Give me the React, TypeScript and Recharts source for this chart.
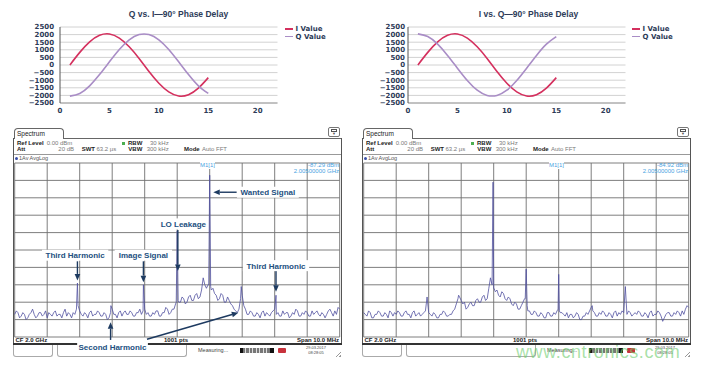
import React from "react";
import {
  LineChart,
  Line,
  XAxis,
  YAxis,
  CartesianGrid,
  ReferenceLine,
  ReferenceDot,
} from "recharts";

// ---- I/Q phase plots ----
const sampleX = [1, 2, 3, 4, 5, 6, 7, 8, 9, 10, 11, 12, 13, 14, 15];
const iValues = [0, 830, 1520, 1950, 2040, 1770, 1200, 430, -430, -1200, -1770, -2040, -1950, -1520, -830];
const qLagging = [-2050, -1870, -1370, -630, 210, 1020, 1660, 2000, 2000, 1660, 1020, 210, -630, -1370, -1870];
const qLeading = [2050, 1870, 1370, 630, -210, -1020, -1660, -2000, -2000, -1660, -1020, -210, 630, 1370, 1870];
const phaseXTicks = [0, 5, 10, 15, 20];
const phaseYTicks = [-2500, -2000, -1500, -1000, -500, 0, 500, 1000, 1500, 2000, 2500];
const seriesNames = ["I Value", "Q Value"];

// ---- spectrum traces, 10 MHz span around CF, one reading per 50 kHz ----
const spanStart = -5;
const spanStep = 0.05;
// one row = 1 MHz
const floorA = [
  -87, -85, -86, -89, -88, -86, -87, -90, -89, -87, -86, -84, -87, -89, -88, -86, -86, -88, -87, -85,
  -89, -86, -87, -88, -86, -85, -88, -87, -87, -89, -86, -84, -88, -86, -87, -89, -86, -87, -84, -82,
  -85, -87, -88, -86, -87, -89, -86, -85, -88, -87, -87, -85, -86, -88, -88, -86, -87, -90, -89, -86,
  -84, -87, -87, -89, -86, -85, -88, -86, -85, -87, -87, -85, -86, -88, -88, -86, -86, -84, -87, -85,
  -84, -87, -86, -88, -88, -86, -87, -85, -85, -88, -88, -86, -86, -83, -84, -87, -86, -84, -84, -81,
  -80, -80, -80, -77, -78, -81, -80, -77, -76, -79, -79, -76, -75, -78, -77, -73, -66, -70, -72, -70,
  -72, -73, -72, -75, -76, -79, -78, -75, -76, -80, -80, -77, -79, -81, -82, -84, -85, -86, -84, -78,
  -76, -82, -84, -87, -87, -85, -86, -88, -88, -86, -87, -89, -86, -85, -88, -86, -87, -88, -86, -85,
  -84, -87, -86, -88, -88, -85, -87, -86, -86, -89, -88, -86, -87, -84, -85, -88, -88, -86, -87, -85,
  -86, -88, -88, -85, -87, -86, -85, -87, -88, -86, -87, -89, -87, -85, -84, -86, -88, -85, -87, -83,
  -84,
];
const peaksA: [number, number][] = [
  [-3.07, -69], [-2.04, -82], [-1.04, -70], [-0.03, -80], [0, -39], [0.03, -79],
  [0.97, -70], [1, -7], [1.03, -71], [1.97, -71], [3.04, -76],
];
const floorB = [
  -86, -87, -88, -85, -86, -89, -89, -87, -87, -85, -86, -88, -88, -86, -87, -89, -85, -86, -88, -86,
  -87, -85, -86, -88, -88, -86, -85, -87, -87, -89, -86, -85, -88, -87, -86, -88, -87, -86, -85, -82,
  -86, -87, -88, -86, -87, -89, -89, -87, -87, -85, -86, -88, -88, -87, -87, -85, -84, -81, -78, -77,
  -79, -81, -80, -84, -83, -81, -80, -82, -82, -79, -78, -80, -80, -77, -76, -79, -78, -72, -66, -70,
  -72, -74, -73, -76, -77, -74, -75, -78, -79, -77, -78, -81, -82, -80, -81, -84, -84, -82, -80, -78,
  -61, -85, -85, -87, -87, -85, -86, -88, -88, -86, -87, -89, -89, -86, -86, -88, -88, -86, -87, -85,
  -64, -86, -86, -87, -88, -86, -89, -87, -87, -89, -88, -86, -87, -90, -90, -88, -88, -86, -87, -85,
  -83, -85, -86, -88, -88, -86, -87, -85, -86, -88, -88, -86, -87, -89, -86, -85, -88, -86, -87, -85,
  -86, -88, -87, -85, -86, -88, -87, -86, -87, -85, -86, -88, -88, -86, -87, -89, -86, -85, -88, -87,
  -87, -85, -86, -88, -91, -89, -87, -86, -86, -88, -88, -86, -87, -85, -86, -88, -85, -87, -84, -82,
  -83,
];
const peaksB: [number, number][] = [
  [-3.05, -77], [-2.08, -76], [-1.05, -70], [-1.02, -11], [-0.99, -72], [-0.03, -78],
  [0, -61], [0.03, -82], [0.98, -84], [1, -64], [1.02, -85], [2.03, -82], [3.05, -71],
];
const dbmTicks = [-100, -90, -80, -70, -60, -50, -40, -30, -20, -10, 0];
const mhzTicks = [-5, -4, -3, -2, -1, 0, 1, 2, 3, 4, 5];

// annotations on the first capture (MHz offset, dBm)
const arrowsA = [
  { x1: -3.07, y1: -56.5, x2: -3.07, y2: -67.5 },
  { x1: -1.04, y1: -56.5, x2: -1.04, y2: -68.5 },
  { x1: 0.02, y1: -38.5, x2: 0.02, y2: -62 },
  { x1: 1.83, y1: -16.8, x2: 1.11, y2: -16.8 },
  { x1: 3.04, y1: -62, x2: 3.04, y2: -74 },
  { x1: -2.05, y1: -101.7, x2: -2.05, y2: -91.5 },
  { x1: -0.93, y1: -101.3, x2: 1.88, y2: -86 },
];
const labelsA = [
  { text: "Third Harmonic", f: -3.14, dbm: -53 },
  { text: "Image Signal", f: -1.04, dbm: -53 },
  { text: "LO Leakage", f: 0.19, dbm: -35 },
  { text: "Wanted Signal", f: 2.79, dbm: -16.8 },
  { text: "Third Harmonic", f: 3.04, dbm: -59 },
  { text: "Second Harmonic", f: -1.99, dbm: -106 },
];

const I_COLOR = "#d4305e";
const Q_COLOR = "#a98dc6";
const NAVY = "#2d3b58";
const ANNO = "#23507f";
const ARROW = "#1d3a60";

function buildTrace(floor: number[], peaks: [number, number][]) {
  const pts = floor.map((dbm, k) => ({ f: +(spanStart + k * spanStep).toFixed(2), dbm }));
  const keep = pts.filter((p) => !peaks.some(([f]) => Math.abs(f - p.f) < 1e-6));
  return [...keep, ...peaks.map(([f, dbm]) => ({ f, dbm }))].sort((a, b) => a.f - b.f);
}

const fmtNum = (v: number) => (v < 0 ? "\u2212" + Math.abs(v) : String(v));

const T = ({ x, y, s = 6, b = false, c = "#555", a = "start", bg, children }: any) => (
  <div
    style={{
      position: "absolute",
      left: x,
      top: y - s * 0.6,
      fontSize: s,
      lineHeight: 1.2,
      fontWeight: b ? 700 : 400,
      color: c,
      whiteSpace: "nowrap",
      background: bg,
      transform: a === "end" ? "translateX(-100%)" : a === "middle" ? "translateX(-50%)" : undefined,
    }}
  >
    {children}
  </div>
);

const Box = ({ x, y, w, h, style }: any) => (
  <div style={{ position: "absolute", left: x, top: y, width: w, height: h, boxSizing: "border-box", ...style }} />
);

const axisTick = { fontSize: 7, fontWeight: 700, fill: NAVY, fontFamily: "DejaVu Sans" };

function PhasePlot({ left, title, qValues, yWidth, yMargin, rightMargin, legendX }: any) {
  const data = sampleX.map((x, k) => ({ x, i: iValues[k], q: qValues[k] }));
  const colors = [I_COLOR, Q_COLOR];
  return (
    <div style={{ position: "absolute", left, top: 0, width: 350, height: 125 }}>
      <div
        style={{
          position: "absolute", left: 0, top: 9, width: 357, textAlign: "center",
          fontSize: 8.5, fontWeight: 700, color: NAVY, lineHeight: 1.2,
        }}
      >
        {title}
      </div>
      <LineChart width={350} height={125} data={data} margin={{ top: 27, right: rightMargin, bottom: 8, left: 0 }}>
        <CartesianGrid vertical={false} stroke="#d2d2d2" />
        <XAxis
          type="number" dataKey="x" domain={[0, 22]} ticks={phaseXTicks} interval={0}
          tickLine={false} tickSize={0} tickMargin={5} height={14}
          axisLine={{ stroke: "#9a9a9a" }} tick={axisTick}
        />
        <YAxis
          domain={[-2500, 2500]} ticks={phaseYTicks} interval={0} width={yWidth}
          tickLine={false} tickSize={0} tickMargin={yMargin}
          axisLine={{ stroke: "#555" }} tick={axisTick} tickFormatter={fmtNum}
        />
        <Line type="natural" dataKey="i" name={seriesNames[0]} stroke={I_COLOR} strokeWidth={1.6} dot={false} isAnimationActive={false} />
        <Line type="natural" dataKey="q" name={seriesNames[1]} stroke={Q_COLOR} strokeWidth={1.6} dot={false} isAnimationActive={false} />
      </LineChart>
      {seriesNames.map((n, k) => (
        <React.Fragment key={n}>
          <Box x={legendX} y={28.2 + k * 7.7} w={8} h={1.6} style={{ background: colors[k] }} />
          <T x={legendX + 10.5} y={29 + k * 7.7} s={7} b c={NAVY}>
            <span style={{ fontFamily: "DejaVu Sans" }}>{n}</span>
          </T>
        </React.Fragment>
      ))}
    </div>
  );
}

const DbmTick = (p: any) => {
  const v = p.payload.value;
  if (v === 0 || v === -100) return <g />;
  return (
    <g>
      <rect x={p.x - 0.5} y={p.y - 3.5} width={21} height={7} fill="#fff" />
      <text x={p.x} y={p.y} dy={2} fontSize={5.5} fill="#6a6a6a" fontFamily="Arial">{`${v} dBm`}</text>
    </g>
  );
};

const Arrow = (p: any) => {
  const { x1, y1, x2, y2 } = p;
  const a = Math.atan2(y2 - y1, x2 - x1);
  const L = 6.5;
  const W = 2.8;
  const bx = x2 - L * Math.cos(a);
  const by = y2 - L * Math.sin(a);
  const s = Math.sin(a);
  const c = Math.cos(a);
  const pts = `${x2},${y2} ${bx + W * s},${by - W * c} ${bx - W * s},${by + W * c}`;
  return (
    <g>
      <line x1={x1} y1={y1} x2={bx} y2={by} stroke={ARROW} strokeWidth={1.4} />
      <polygon points={pts} fill={ARROW} />
    </g>
  );
};

const AnnoLabel = (text: string) => (p: any) => {
  const w = text.length * 4.45 + 4;
  return (
    <g>
      <rect x={p.cx - w / 2} y={p.cy - 5.5} width={w} height={11} fill="#fff" />
      <text x={p.cx} y={p.cy} dy={3} textAnchor="middle" fontSize={8} fontWeight={700} fill={ANNO} fontFamily="Arial">
        {text}
      </text>
    </g>
  );
};

function SpectrumPanel({ dx, trace, level, arrows = [], labels = [], watermark = false }: any) {
  const hdr = "#222";
  const val = "#7a7a7a";
  return (
    <div style={{ position: "absolute", left: dx, top: 0, width: 350, height: 368 }}>
      <Box x={13.5} y={128} w={50} h={10.5} style={{ border: "1px solid #666", borderBottom: "none", borderRadius: "4px 4px 0 0" }} />
      <T x={17} y={134} s={6.5} c={hdr}>Spectrum</T>
      <Box x={63} y={137.5} w={278} h={1} style={{ background: "#666" }} />
      <Box x={328} y={127} w={12} h={10} style={{ border: "1px solid #777", borderRadius: 2 }} />
      <Box x={331} y={129.2} w={6} h={2.6} style={{ border: "1px solid #555" }} />
      <T x={334} y={134} s={4} a="middle" c="#555">▼</T>
      <Box x={13} y={138} w={1} h={206} style={{ background: "#555" }} />
      <Box x={340.5} y={138} w={1} h={206} style={{ background: "#555" }} />

      <T x={17} y={143.8} b c={hdr}>Ref Level</T>
      <T x={46.7} y={143.8} c={val}>0.00 dBm</T>
      <Box x={121.5} y={142.3} w={3} h={3} style={{ background: "#4caf50" }} />
      <T x={128} y={143.8} b c={hdr}>RBW</T>
      <T x={150} y={143.8} c={val}>30 kHz</T>
      <T x={17} y={149.3} b c={hdr}>Att</T>
      <T x={58.3} y={149.3} c={val}>20 dB</T>
      <T x={81.7} y={149.3} b c={hdr}>SWT</T>
      <T x={96.5} y={149.3} c={val}>63.2 µs</T>
      <T x={128.3} y={149.3} b c={hdr}>VBW</T>
      <T x={146.7} y={149.3} c={val}>300 kHz</T>
      <T x={184} y={149.3} b c={hdr}>Mode</T>
      <T x={202} y={149.3} c={val}>Auto FFT</T>
      <Box x={14} y={154} w={326.5} h={1} style={{ background: "#999" }} />
      <Box x={15.3} y={156.8} w={3} h={3} style={{ background: "#3b4fa8", borderRadius: "50%" }} />
      <T x={19} y={158.3} s={5.5} c="#555">1Av AvgLog</T>

      <T x={15.5} y={340.2} b c={hdr}>CF 2.0 GHz</T>
      <T x={176} y={340.2} a="middle" b c={hdr}>1001 pts</T>
      <T x={339} y={340.2} a="end" b c={hdr}>Span 10.0 MHz</T>
      <Box x={13} y={343.2} w={328.5} h={1.6} style={{ background: "#333" }} />
      <Box x={13.3} y={344.5} w={40} h={12.5} style={{ border: "1px solid #aaa", borderTop: "none", borderRadius: "0 0 3px 3px" }} />
      <Box x={56.7} y={344.5} w={130} h={12.5} style={{ border: "1px solid #aaa", borderTop: "none", borderRadius: "0 0 3px 3px" }} />
      <T x={198} y={350.7} s={5.5} c="#444">Measuring...</T>
      <Box
        x={240} y={348.3} w={33.5} h={4.5}
        style={{ background: "repeating-linear-gradient(90deg,#777 0 2.5px,#ddd 2.5px 3.5px)", borderLeft: "3px solid #111", borderRight: "4px solid #111" }}
      />
      <Box x={277.5} y={348} w={8.5} h={5} style={{ background: "#c8323c", borderRadius: 1 }} />
      <T x={316} y={348.3} s={4} a="middle" c="#444">29.03.2017</T>
      <T x={316} y={353} s={4} a="middle" c="#444">08:28:05</T>
      <Box
        x={334} y={350} w={7} h={7}
        style={{ background: "repeating-linear-gradient(135deg, transparent 0 1.5px, #999 1.5px 2.3px)", clipPath: "polygon(100% 0,100% 100%,0 100%)" }}
      />

      <div style={{ position: "absolute", left: 13, top: 155 }}>
        <LineChart width={330} height={205} data={trace} margin={{ top: 8, right: 3.3, bottom: 23, left: 1.7 }}>
          <CartesianGrid stroke="#6f6f6f" strokeWidth={0.9} />
          <XAxis type="number" dataKey="f" domain={[-5, 5]} ticks={mhzTicks} hide />
          <YAxis
            domain={[-100, 0]} ticks={dbmTicks} interval={0} mirror width={0}
            axisLine={false} tickLine={false} tickSize={0} tickMargin={2} tick={<DbmTick />}
          />
          <Line type="linear" dataKey="dbm" stroke="#50509f" strokeWidth={0.8} dot={false} isAnimationActive={false} />
          {arrows.map((r: any, k: number) => (
            <ReferenceLine
              key={"a" + k}
              segment={[{ x: r.x1, y: r.y1 }, { x: r.x2, y: r.y2 }]}
              ifOverflow="visible"
              shape={Arrow}
            />
          ))}
          {labels.map((l: any, k: number) => (
            <ReferenceDot key={"l" + k} x={l.f} y={l.dbm} ifOverflow="visible" shape={AnnoLabel(l.text)} />
          ))}
        </LineChart>
      </div>

      <T x={200} y={165.5} c="#4aa3df" bg="#fff">M1[1]</T>
      <T x={339} y={165.5} a="end" c="#4aa3df">{level}</T>
      <T x={339} y={171.3} a="end" c="#4aa3df">2.00500000 GHz</T>
      {watermark && (
        <div
          style={{
            position: "absolute", left: 167, top: 342, fontSize: 18, letterSpacing: 0.6,
            color: "rgba(110, 205, 110, 0.6)", whiteSpace: "nowrap", lineHeight: 1.2,
          }}
        >
          www.cntronics.com
        </div>
      )}
    </div>
  );
}

export default function App() {
  const traceA = buildTrace(floorA, peaksA);
  const traceB = buildTrace(floorB, peaksB);
  return (
    <div
      style={{
        position: "absolute", left: 0, top: 0, width: 701, height: 368, overflow: "hidden",
        background: "#fff", fontFamily: "'Liberation Sans', Arial, sans-serif",
      }}
    >
      <PhasePlot left={0} title="Q vs. I—90° Phase Delay" qValues={qLagging} yWidth={60} yMargin={6} rightMargin={72.5} legendX={285} />
      <PhasePlot left={350} title="I vs. Q—90° Phase Delay" qValues={qLeading} yWidth={58} yMargin={3} rightMargin={74.5} legendX={282} />
      <SpectrumPanel dx={0} trace={traceA} level="-87.29 dBm" arrows={arrowsA} labels={labelsA} />
      <SpectrumPanel dx={349} trace={traceB} level="-84.92 dBm" watermark />
    </div>
  );
}
